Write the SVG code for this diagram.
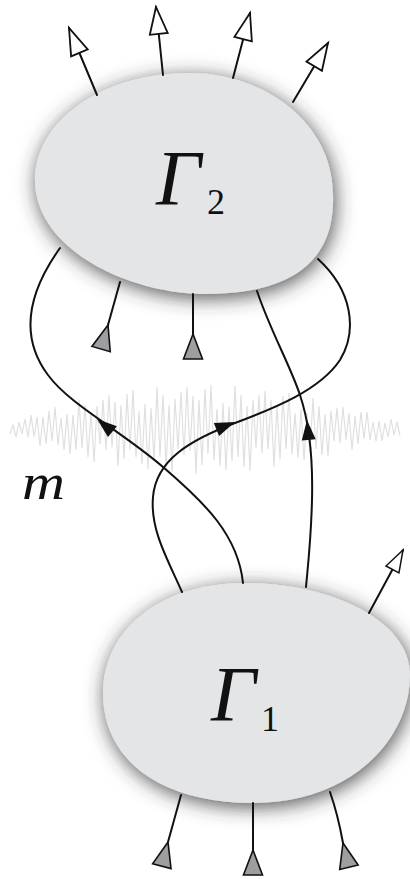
<svg xmlns="http://www.w3.org/2000/svg" width="410" height="879" viewBox="0 0 410 879">
<style>
.blob{fill:#e4e5e7;filter:url(#sh)}
.wire{fill:none;stroke:#111;stroke-width:2;stroke-linecap:round}
.lbl{font-family:"Liberation Serif","DejaVu Serif",serif;font-style:italic;fill:#111}
.sub{font-family:"Liberation Serif","DejaVu Serif",serif;fill:#111}
</style>
<defs>
<filter id="sh" x="-30%" y="-30%" width="160%" height="160%">
<feGaussianBlur in="SourceAlpha" stdDeviation="10"/>
<feOffset dx="2" dy="4" result="b"/>
<feFlood flood-color="#333" flood-opacity="0.85"/>
<feComposite in2="b" operator="in"/>
<feMerge><feMergeNode/><feMergeNode in="SourceGraphic"/></feMerge>
</filter>
<path id="oa" d="M0,0 L-27,-9 L-27,9 Z" fill="#fff" stroke="#111" stroke-width="1.8"/>
<path id="ga" d="M0,0 L-25,-9.5 L-25,9.5 Z" fill="#9d9ea0" stroke="#111" stroke-width="1.6"/>
<path id="ba" d="M0,0 L-20,-7 L-20,7 Z" fill="#111"/>
</defs>
<rect width="410" height="879" fill="#fff"/>
<g id="noise">
<polyline fill="none" stroke="#e0e0e0" stroke-width="1.2" points="10,434 13,425 16,437 19,422 22,434 25,419 28,437 31,415 34,437 37,417 40,446 43,417 46,444 49,411 52,441 55,407 58,445 61,418 64,450 67,414 70,454 73,415 76,450 79,400 82,448 85,405 88,457 91,412 94,462 97,406 100,444 103,400 106,450 109,395 112,447 115,402 118,466 121,405 124,459 127,394 130,450 133,390 136,457 139,411 142,464 145,404 148,469 151,408 154,461 157,387 160,457 163,395 166,468 169,405 172,472 175,399 178,449 181,392 184,455 187,387 190,451 193,396 196,474 199,400 202,465 205,389 208,454 211,385 214,460 217,409 220,466 223,403 226,470 229,407 232,461 235,386 238,457 241,395 244,467 247,406 250,471 253,400 256,448 259,395 262,453 265,391 268,449 271,400 274,467 277,405 280,459 283,396 286,449 289,393 292,454 295,413 298,458 301,409 304,460 307,413 310,453 313,398 316,449 319,406 322,455 325,414 328,456 331,411 334,441 337,408 340,443 343,407 346,440 349,413 352,450 355,416 358,444 361,412 364,439 367,412 370,440 373,422 376,441 379,421 382,441 385,423 388,437 391,419 394,435 397,422 400,436"/>
<text class="lbl" x="22" y="499" font-size="50" textLength="43" lengthAdjust="spacingAndGlyphs">m</text>
</g>
<g id="gamma2">
<path class="blob" d="M35,180 C35,125 95,75 185,73 C260,71 333,120 333,195 C335,255 300,294 205,294 C130,294 35,250 35,180 Z"/>
<text class="lbl" x="156" y="204" font-size="79">Γ</text>
<text class="sub" x="207" y="214" font-size="36">2</text>
</g>
<g id="gamma1">
<path class="blob" d="M103,693 C103,630 160,583 245,583 C330,583 410,620 410,675 C410,740 350,803 253,803 C160,803 103,760 103,693 Z"/>
<text class="lbl" x="211" y="720" font-size="79">Γ</text>
<text class="sub" x="261" y="731" font-size="36">1</text>
</g>
<g id="connectors">
<path class="wire" d="M60,248 C30,290 18,335 48,375 C70,405 120,430 163,467 C205,503 238,535 243,583"/>
<path class="wire" d="M182,592 C168,560 150,530 153,497 C156,460 190,440 235,423 C275,408 320,390 340,360 C358,330 352,290 318,259"/>
<path class="wire" d="M257,291 C270,330 290,365 300,395 C310,425 313,460 312,500 C311,540 308,565 306,587"/>
<use href="#ba" transform="translate(97,419) rotate(-140.5)"/>
<use href="#ba" transform="translate(235,422) rotate(-22)"/>
<use href="#ba" transform="translate(307,420) rotate(-95)"/>
<path class="wire" d="M97,95 L69,28"/>
<path class="wire" d="M163,75 L156,7"/>
<path class="wire" d="M233,78 L250,13"/>
<path class="wire" d="M293,102 L328,43"/>
<path class="wire" d="M369,613 L403,550"/>
<use href="#oa" transform="translate(69,28) rotate(-112.7)"/>
<use href="#oa" transform="translate(156,7) rotate(-95.9)"/>
<use href="#oa" transform="translate(250,13) rotate(-75.3)"/>
<use href="#oa" transform="translate(328,43) rotate(-59.3)"/>
<use href="#oa" transform="translate(403,550) rotate(-61.6) scale(0.82)"/>
<path class="wire" d="M120,282 L108,325"/>
<path class="wire" d="M193,294 L193,334"/>
<path class="wire" d="M181,795 L168,842"/>
<path class="wire" d="M253,803 L253,850"/>
<path class="wire" d="M330,792 Q338,815 343,843"/>
<use href="#ga" transform="translate(108,325) rotate(-74)"/>
<use href="#ga" transform="translate(193,334) rotate(-90)"/>
<use href="#ga" transform="translate(168,842) rotate(-75.7)"/>
<use href="#ga" transform="translate(253,850) rotate(-90)"/>
<use href="#ga" transform="translate(343,843) rotate(-103.7)"/>
</g>
</svg>
